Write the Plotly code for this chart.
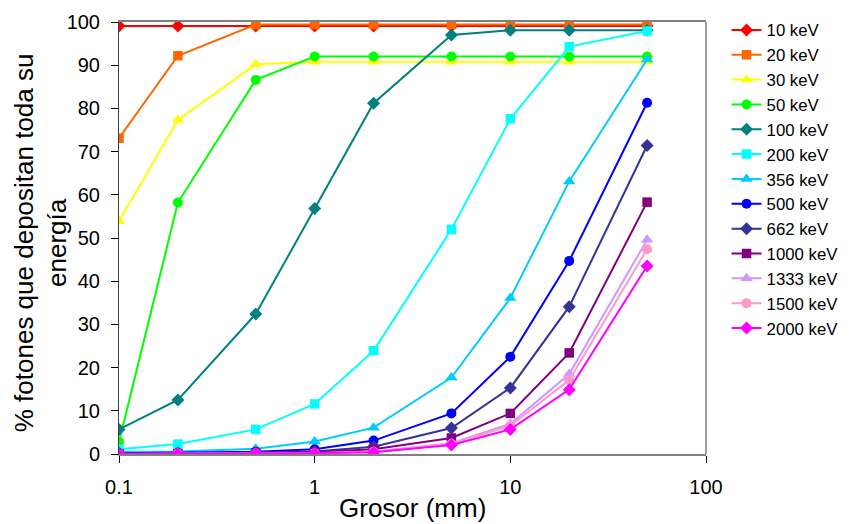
import plotly.graph_objects as go

# Thickness of the absorber (mm)
grosor = [0.1, 0.2, 0.5, 1, 2, 5, 10, 20, 50]

# % of photons depositing all their energy, per photon energy
e10 = [99.1, 99.1, 99.1, 99.1, 99.1, 99.1, 99.1, 99.1, 99.1]
e20 = [73.1, 92.2, 99.4, 99.4, 99.4, 99.4, 99.4, 99.4, 99.4]
e30 = [53.9, 77.3, 90.2, 90.8, 90.8, 90.8, 90.8, 90.8, 90.8]
e50 = [2.8, 58.2, 86.6, 92.0, 92.0, 92.0, 92.0, 92.0, 92.0]
e100 = [5.7, 12.5, 32.4, 56.8, 81.2, 97.0, 98.1, 98.1, 98.1]
e200 = [1.1, 2.3, 5.7, 11.6, 23.9, 52.0, 77.6, 94.3, 97.9]
e356 = [0.5, 0.6, 1.2, 2.9, 6.1, 17.7, 36.1, 63.1, 91.3]
e500 = [0.2, 0.3, 0.5, 1.1, 3.1, 9.4, 22.5, 44.7, 81.3]
e662 = [0.1, 0.2, 0.3, 0.6, 1.7, 6.0, 15.3, 34.1, 71.4]
e1000 = [0.0, 0.1, 0.2, 0.4, 1.1, 3.7, 9.4, 23.4, 58.3]
e1333 = [0.0, 0.1, 0.1, 0.2, 0.6, 2.5, 7.0, 18.5, 49.6]
e1500 = [0.0, 0.1, 0.1, 0.2, 0.5, 2.3, 6.6, 17.1, 47.4]
e2000 = [0.0, 0.0, 0.1, 0.2, 0.4, 2.1, 5.7, 14.9, 43.5]

series_names = ["10 keV", "20 keV", "30 keV", "50 keV", "100 keV", "200 keV",
                "356 keV", "500 keV", "662 keV", "1000 keV", "1333 keV",
                "1500 keV", "2000 keV"]
series_values = [e10, e20, e30, e50, e100, e200, e356, e500, e662, e1000,
                 e1333, e1500, e2000]
series_colors = ["#FF0000", "#FF6600", "#FFFF00", "#00FF00", "#008080",
                 "#00FFFF", "#00CCFF", "#0000FF", "#333399", "#800080",
                 "#CC99FF", "#FF99CC", "#FF00FF"]
marker_cycle = [("diamond", 10), ("square", 9.5), ("triangle-up", 11),
                ("circle", 10)]

x_ticks = [0.1, 1, 10, 100]
x_ticklabels = ["0.1", "1", "10", "100"]
y_ticks = [0, 10, 20, 30, 40, 50, 60, 70, 80, 90, 100]

FONT = "Liberation Sans, Arial, sans-serif"

fig = go.Figure()
for i, (name, vals, col) in enumerate(zip(series_names, series_values,
                                          series_colors)):
    sym, size = marker_cycle[i % 4]
    fig.add_trace(go.Scatter(
        x=grosor, y=vals, name=name, mode="lines+markers",
        line=dict(color=col, width=2),
        marker=dict(symbol=sym, size=size, color=col,
                    line=dict(width=0)),
    ))

fig.update_layout(
    width=858, height=524,
    margin=dict(l=119, r=152, t=20, b=70),
    paper_bgcolor="white", plot_bgcolor="white",
    font=dict(family=FONT, color="black"),
    showlegend=True,
    legend=dict(x=1.035, y=1.022, xanchor="left", yanchor="top",
                font=dict(size=16.8, family=FONT, color="black"),
                bgcolor="rgba(0,0,0,0)", borderwidth=0,
                tracegroupgap=0, itemwidth=30, maxheight=500),
    xaxis=dict(type="log", range=[-1, 2], tickvals=x_ticks,
               ticktext=x_ticklabels, ticks="outside", ticklen=7,
               tickcolor="black", tickwidth=1,
               showgrid=False, zeroline=False,
               showline=True, linecolor="#808080", linewidth=2,
               mirror=True, tickfont=dict(size=20),
               ticklabelstandoff=7),
    yaxis=dict(range=[0, 100], tickvals=y_ticks, ticks="outside",
               ticklen=7, tickcolor="black", tickwidth=1,
               showgrid=False, zeroline=False,
               showline=True, linecolor="#404040", linewidth=1,
               tickfont=dict(size=20), ticklabelstandoff=7),
    annotations=[
        dict(text="Grosor (mm)", xref="paper", yref="paper",
             x=0.5, y=-0.126, xanchor="center", yanchor="middle",
             showarrow=False, font=dict(size=26)),
        dict(text="% fotones que depositan toda su<br>energía",
             xref="paper", yref="paper", x=-0.133, y=0.49,
             xanchor="center", yanchor="middle", textangle=-90,
             showarrow=False, font=dict(size=26)),
    ],
)

# Right border of the plotting box
fig.add_shape(type="line", xref="paper", yref="paper", x0=1, x1=1,
              y0=0, y1=1, line=dict(color="#808080", width=1.5))

fig.write_html("out.html")
